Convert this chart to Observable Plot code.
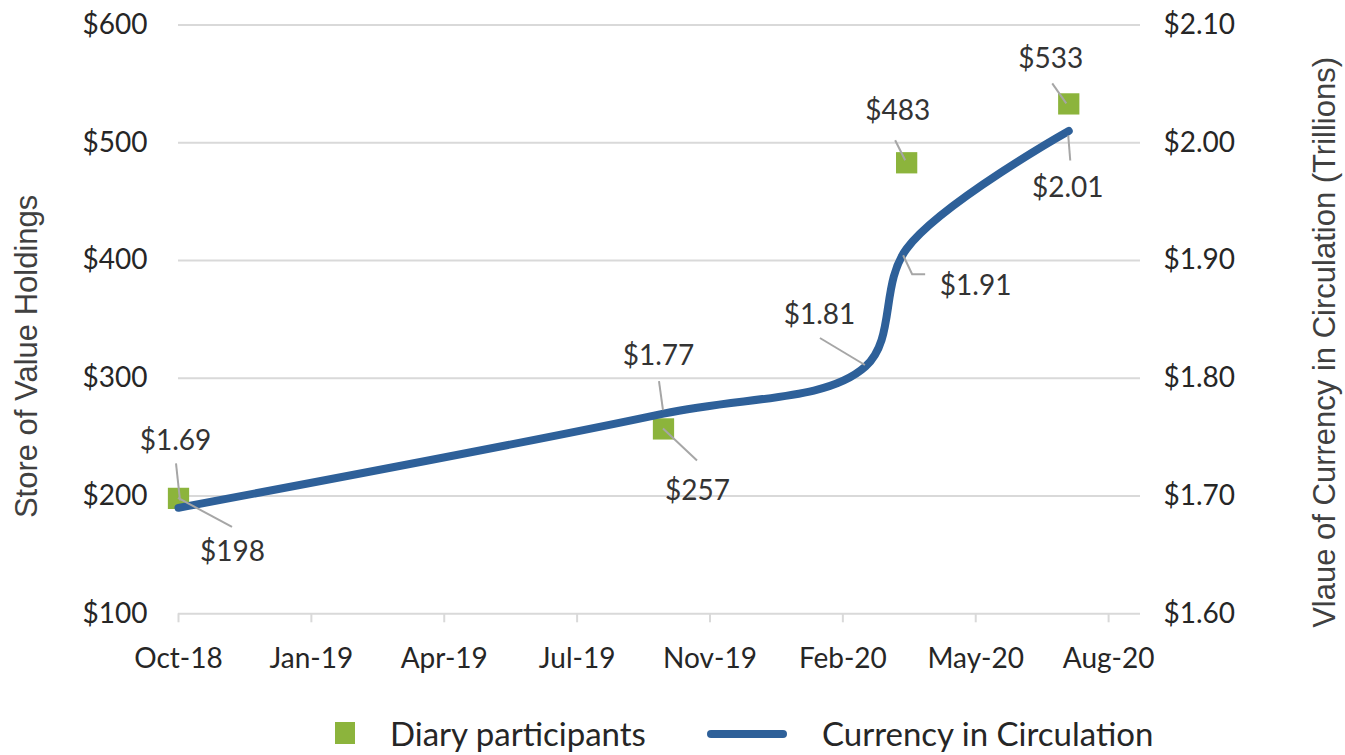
<!DOCTYPE html>
<html><head><meta charset="utf-8">
<script src="https://cdn.jsdelivr.net/npm/d3@7"></script>
<script src="https://cdn.jsdelivr.net/npm/@observablehq/plot@0.6"></script>
<style>
body{margin:0;background:#fff;width:1345px;height:755px;overflow:hidden;position:relative;font-family:Lato,sans-serif}
#chart{position:absolute;left:0;top:0}
#legend{position:absolute;left:0;top:700px;width:1345px;height:55px}
.lg{position:absolute}
.lt{font-family:Lato,sans-serif;font-size:33px;line-height:33px;color:#262626;white-space:nowrap}
</style></head><body><div id="chart"></div>
<div id="legend">
  <div class="lg" style="left:335px;top:22px;width:20px;height:22px;background:#8cb43c"></div>
  <div class="lg lt" style="left:390px;top:17px">Diary participants</div>
  <div class="lg" style="left:707px;top:30px;width:80px;height:8px;border-radius:4px;background:#2e6099"></div>
  <div class="lg lt" style="left:822px;top:17px">Currency in Circulation</div>
</div>
<script>
// ---- data ----
const currencyDates = ["2018-10-01","2019-10-01","2020-03-01","2020-04-01","2020-08-01"];
const currencyValues = [1.69, 1.77, 1.81, 1.91, 2.01]; // trillions
const diaryDates = ["2018-10-01","2019-10-01","2020-04-01","2020-08-01"];
const diaryValues = [198, 257, 483, 533];
const leftTicks = [100, 200, 300, 400, 500, 600];
const leftTickLabels = ["$100","$200","$300","$400","$500","$600"];
const rightTickLabels = ["$1.60","$1.70","$1.80","$1.90","$2.00","$2.10"];
const xTickDates = ["2018-10-01","2019-01-09","2019-04-19","2019-07-28","2019-11-05","2020-02-13","2020-05-23","2020-08-31"];
const xTickLabels = ["Oct-18","Jan-19","Apr-19","Jul-19","Nov-19","Feb-20","May-20","Aug-20"];

// ---- annotation layout (pixel offsets) ----
const currencyLabelOffsets = [[-3,-67],[-5,-58],[-46,-51],[69,37],[-1,57]];
const diaryLabelOffsets = [[54,54],[34,62],[-9,-52],[-18,-45]];
const currencyLeaders = [[[-2,-44],[2,-7]],[[-4,-32],[0,-3]],[[-45,-28],[0,-1]],[[-3,7],[6,26],[19,26]],[[0,5],[2,30]]];
const diaryLeaders = [[[0,0],[54,29]],[[0,0],[34,32]],[[-11,-22],[-1,-2]],[[-16,-20],[-2,0]]];

const parse = d3.utcParse("%Y-%m-%d");
const toLeft = v => (v - 1.6) * 1000 + 100;
const lineData = currencyDates.map((d, i) => ({date: parse(d), value: toLeft(currencyValues[i]), raw: currencyValues[i]}));
const diaryData = diaryDates.map((d, i) => ({date: parse(d), value: diaryValues[i]}));

const labelMarks = [];
lineData.forEach((d, i) => labelMarks.push(Plot.text([d], {x: "date", y: "value", text: d => "$" + d.raw.toFixed(2),
  dx: currencyLabelOffsets[i][0], dy: currencyLabelOffsets[i][1], fill: "#333333", fontSize: 28})));
diaryData.forEach((d, i) => labelMarks.push(Plot.text([d], {x: "date", y: "value", text: d => "$" + d.value,
  dx: diaryLabelOffsets[i][0], dy: diaryLabelOffsets[i][1], fill: "#333333", fontSize: 28})));

const chart = Plot.plot({
  width: 1345, height: 700,
  marginLeft: 178, marginRight: 205, marginTop: 24.5, marginBottom: 86.7,
  x: {type: "utc", domain: [parse("2018-10-01"), parse("2020-09-24")]},
  y: {domain: [100, 600]},
  style: {fontFamily: "Lato, sans-serif", fontSize: "28px", color: "#262626", background: "white", overflow: "visible"},
  marks: [
    Plot.gridY(leftTicks, {stroke: "#d9d9d9", strokeOpacity: 1, strokeWidth: 2}),
    Plot.axisX({ticks: xTickDates.map(parse), tickFormat: d => xTickLabels[xTickDates.map(parse).findIndex(t => +t === +d)],
      tickSize: 9, tickPadding: 25, stroke: "#d9d9d9", strokeWidth: 2, strokeOpacity: 1, fill: "#262626", label: null, fontSize: 28}),
    Plot.axisY({anchor: "left", ticks: leftTicks, tickFormat: d => leftTickLabels[leftTicks.indexOf(d)],
      tickSize: 0, tickPadding: 31, label: null, fill: "#262626", fontSize: 28}),
    Plot.axisY({anchor: "right", ticks: leftTicks, tickFormat: d => rightTickLabels[leftTicks.indexOf(d)],
      tickSize: 0, tickPadding: 23, label: null, fill: "#262626", fontSize: 28}),
    Plot.text(["Store of Value Holdings"], {frameAnchor: "left", textAnchor: "middle", dx: -151, dy: 37, rotate: -90,
      fontFamily: "Liberation Sans, Arial, sans-serif", fontSize: 31, fill: "#404040"}),
    Plot.text(["Vlaue of Currency in Circulation (Trillions)"], {frameAnchor: "right", textAnchor: "middle", dx: 185, dy: 23, rotate: -90,
      fontFamily: "Liberation Sans, Arial, sans-serif", fontSize: 31, fill: "#404040"}),
    Plot.dot(diaryData, {x: "date", y: "value", symbol: "square", r: 12, fill: "#8cb43c", stroke: "none"}),
    Plot.line(lineData, {x: "date", y: "value", stroke: "#2e6099", strokeWidth: 8, curve: "catmull-rom", strokeLinecap: "round"}),
    ...labelMarks
  ]
});
document.getElementById("chart").appendChild(chart);

// leader lines positioned through the chart's own scales
const sx = chart.scale("x"), sy = chart.scale("y");
const g = d3.select(chart).append("g").attr("stroke", "#a6a6a6").attr("stroke-width", 2).attr("fill", "none");
function leader(d, pts) {
  const px = sx.apply(d.date), py = sy.apply(d.value);
  g.append("path").attr("d", d3.line()(pts.map(p => [px + p[0], py + p[1]])));
}
lineData.forEach((d, i) => leader(d, currencyLeaders[i]));
diaryData.forEach((d, i) => leader(d, diaryLeaders[i]));
</script></body></html>
